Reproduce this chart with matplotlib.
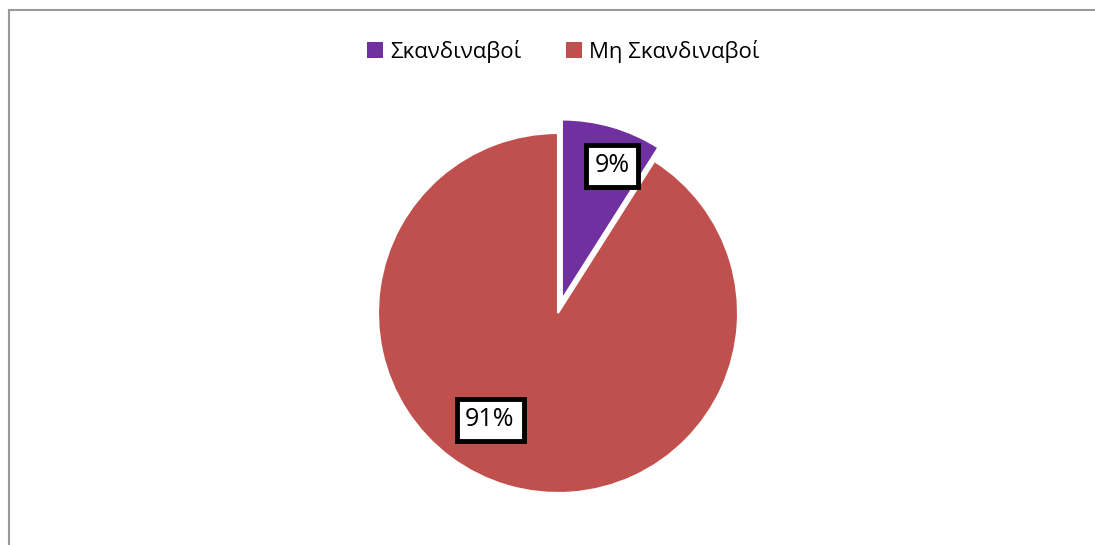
import matplotlib.pyplot as plt
from matplotlib.patches import Patch
from matplotlib.lines import Line2D

plt.rcParams['font.family'] = ['Open Sans', 'DejaVu Sans']

labels = ['Σκανδιναβοί', 'Μη Σκανδιναβοί']
shares = [9, 91]
colors = ['#7030A0', '#C0504D']

W, H = 1095, 545
R = 180.0           # pie radius in pixels
cx, cy = 558, 313   # pie centre in pixels (from top left)

fig = plt.figure(figsize=(W / 100, H / 100), dpi=100)
ax = fig.add_axes([0, 0, 1, 1])

wedges, texts, autotexts = ax.pie(
    shares, colors=colors, startangle=90, counterclock=False,
    radius=1, explode=[0.078, 0], frame=True,
    autopct='%1.0f%%', pctdistance=0.75,
    wedgeprops=dict(edgecolor='white', linewidth=1.5),
    textprops=dict(fontsize=18, color='black'),
)
# axis units = one pie radius, origin at the pie centre
ax.set_xlim(-cx / R, (W - cx) / R)
ax.set_ylim(-(H - cy) / R, cy / R)
ax.set_aspect('equal')
ax.axis('off')

# label boxes where the chart places them (pixels)
label_pos = [(612, 166), (490, 420)]
for t, (x, y) in zip(autotexts, label_pos):
    t.set_position(((x - cx) / R, (cy - y) / R))
    t.set_ha('center')
    t.set_va('center')
    t.set_bbox(dict(boxstyle='square,pad=0.35', facecolor='white',
                    edgecolor='black', linewidth=3.5))

handles = [Patch(facecolor=c, edgecolor='none') for c in colors]
fig.legend(handles, labels, loc='center', ncol=2, frameon=False,
           bbox_to_anchor=(563 / W, 1 - 51 / H), fontsize=16,
           handlelength=0.75, handleheight=0.75, handletextpad=0.3,
           columnspacing=2.0)

# chart area border (top and left edges)
fig.add_artist(Line2D([9 / W, 1], [1 - 10 / H, 1 - 10 / H], color='#9a9a9a', lw=1.5))
fig.add_artist(Line2D([9 / W, 9 / W], [0, 1 - 10 / H], color='#9a9a9a', lw=1.5))

fig.savefig('out.png', dpi=100)
